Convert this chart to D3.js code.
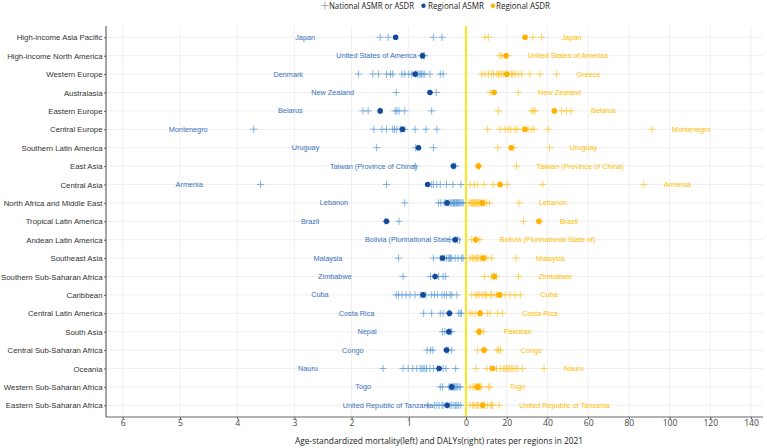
<!DOCTYPE html>
<html>
<head>
<meta charset="utf-8">
<script src="https://cdn.jsdelivr.net/npm/d3@7"></script>
<style>
  body { margin: 0; background: #fff; }
</style>
</head>
<body>
<div id="chart"></div>
<script>
// Regions, top to bottom
let regions = ["High-income Asia Pacific", "High-income North America", "Western Europe", "Australasia",
  "Eastern Europe", "Central Europe", "Southern Latin America", "East Asia", "Central Asia",
  "North Africa and Middle East", "Tropical Latin America", "Andean Latin America", "Southeast Asia",
  "Southern Sub-Saharan Africa", "Caribbean", "Central Latin America", "South Asia",
  "Central Sub-Saharan Africa", "Oceania", "Western Sub-Saharan Africa", "Eastern Sub-Saharan Africa"];

// National ASMR per region (left side)
let asmrNational = [
  [1.50, 1.36, 0.57, 0.42],
  [0.78, 0.73, 0.74],
  [1.88, 1.63, 1.53, 1.39, 1.32, 1.28, 1.12, 1.07, 0.95, 0.85, 0.82, 0.78, 0.75, 0.72, 0.63, 0.45, 0.40, 0.80, 0.88, 1.00],
  [1.22, 0.52],
  [1.80, 1.71, 1.24, 1.21, 1.17, 1.07, 0.60],
  [3.71, 1.61, 1.47, 1.39, 1.28, 1.25, 1.21, 1.15, 1.07, 0.89, 0.70, 0.51, 1.12],
  [1.56, 0.88, 0.57],
  [0.89, 0.22, 0.18],
  [3.59, 1.39, 0.60, 0.57, 0.51, 0.45, 0.34, 0.23, 0.09],
  [1.07, 0.48, 0.44, 0.38, 0.34, 0.30, 0.27, 0.25, 0.23, 0.22, 0.21, 0.20, 0.19, 0.17, 0.16, 0.15, 0.13, 0.11, 0.09, 0.07, 0.05],
  [1.40, 1.17],
  [0.28, 0.19, 0.15],
  [1.18, 0.57, 0.45, 0.38, 0.34, 0.31, 0.29, 0.27, 0.25, 0.19, 0.14, 0.08, 0.05],
  [1.10, 0.62, 0.55, 0.48, 0.40, 0.36],
  [1.22, 1.18, 1.12, 1.05, 0.98, 0.89, 0.80, 0.70, 0.60, 0.55, 0.50, 0.42, 0.38, 0.34, 0.28, 0.25, 0.16],
  [0.74, 0.60, 0.45, 0.40, 0.30, 0.28, 0.13, 0.10, 0.08],
  [0.41, 0.37, 0.30, 0.28, 0.25],
  [0.68, 0.62, 0.58, 0.34, 0.31, 0.25],
  [1.45, 1.10, 1.01, 0.93, 0.86, 0.80, 0.77, 0.75, 0.72, 0.69, 0.63, 0.57, 0.50, 0.40, 0.35, 0.18],
  [0.45, 0.41, 0.30, 0.27, 0.25, 0.24, 0.22, 0.20, 0.19, 0.17, 0.15, 0.12, 0.10],
  [0.67, 0.55, 0.51, 0.47, 0.42, 0.40, 0.33, 0.28, 0.25, 0.21, 0.18, 0.16, 0.13, 0.09]
];

// National ASDR (DALYs) per region (right side)
let asdrNational = [
  [9.3, 11.0, 32.8, 37.2],
  [20.5, 16.6, 17.5],
  [7.7, 9.3, 11.0, 12.6, 15.1, 15.9, 17.5, 18.5, 21.0, 22.4, 24.1, 25.7, 27.4, 31.4, 36.3, 44.5, 13.5, 16.5, 19.5, 23.0],
  [25.6, 11.8],
  [51.6, 49.4, 47.0, 33.9, 33.1, 32.3, 15.9],
  [91.3, 10.6, 16.7, 19.2, 20.8, 22.0, 24.1, 25.2, 30.5, 32.3, 33.4, 40.4, 28.0],
  [41.1, 23.5, 15.6],
  [24.8, 6.0, 6.6],
  [87.3, 2.0, 4.0, 5.6, 8.8, 13.4, 17.5, 20.3, 37.7],
  [26.0, 1.5, 2.2, 2.8, 3.3, 3.8, 4.2, 4.6, 5.0, 5.4, 6.0, 6.5, 7.0, 7.6, 8.5, 9.2, 10.0, 11.5, 4.4, 3.0, 5.8],
  [36.2, 28.2],
  [6.8, 4.6, 2.8],
  [24.6, 2.0, 3.0, 3.5, 4.4, 5.0, 5.5, 6.1, 7.2, 8.0, 9.0, 10.2, 12.6],
  [25.8, 9.0, 12.5, 13.5, 14.0, 15.0],
  [26.7, 2.8, 4.9, 5.5, 6.5, 7.7, 8.8, 9.5, 10.2, 11.8, 12.5, 13.8, 15.0, 17.5, 19.2, 21.6, 24.1],
  [17.8, 2.0, 3.0, 4.5, 6.5, 7.5, 10.5, 11.8, 15.4],
  [8.7, 6.5, 6.2, 5.8, 7.0],
  [17.0, 5.6, 8.8, 9.5, 15.2, 16.0],
  [38.3, 4.9, 10.2, 12.0, 15.0, 17.0, 18.5, 19.2, 20.0, 20.8, 21.5, 22.5, 23.3, 24.5, 25.4, 27.7],
  [11.7, 2.0, 3.5, 4.0, 4.9, 5.2, 5.5, 6.0, 6.2, 6.5, 7.0, 7.5, 11.0],
  [16.3, 2.0, 3.3, 3.8, 4.9, 5.5, 6.1, 7.5, 8.5, 9.0, 10.5, 11.8, 12.6, 13.0]
];

// Regional values
let asmrRegional = [1.23, 0.76, 0.89, 0.63, 1.50, 1.11, 0.83, 0.22, 0.67, 0.33, 1.39,
  0.19, 0.41, 0.54, 0.75, 0.29, 0.30, 0.34, 0.47, 0.25, 0.33];
let asdrRegional = [29.0, 19.6, 20.0, 13.8, 43.4, 29.0, 22.1, 6.1, 16.7, 8.0, 35.8,
  4.8, 8.5, 13.9, 16.4, 6.9, 6.5, 8.8, 13.1, 5.7, 8.2];

// Country with the highest value in each region
let asmrTopCountry = ["Japan", "United States of America", "Denmark", "New Zealand", "Belarus",
  "Montenegro", "Uruguay", "Taiwan (Province of China)", "Armenia", "Lebanon", "Brazil",
  "Bolivia (Plurinational State of)", "Malaysia", "Zimbabwe", "Cuba", "Costa Rica", "Nepal",
  "Congo", "Nauru", "Togo", "United Republic of Tanzania"];
let asdrTopCountry = ["Japan", "United States of America", "Greece", "New Zealand", "Belarus",
  "Montenegro", "Uruguay", "Taiwan (Province of China)", "Armenia", "Lebanon", "Brazil",
  "Bolivia (Plurinational State of)", "Malaysia", "Zimbabwe", "Cuba", "Costa Rica", "Pakistan",
  "Congo", "Nauru", "Togo", "United Republic of Tanzania"];

// Tick labels
let asmrTicks = [6, 5, 4, 3, 2, 1, 0];
let asdrTicks = [20, 40, 60, 80, 100, 120, 140];

let width = 767, height = 448;
let panel = {left: 106, right: 763, top: 26, bottom: 417};

let blueCross = "#5b9bd5", blueDot = "#154a9b", blueText = "#3a72bd";
let orangeCross = "#ffc42e", orangeDot = "#ffb000", orangeText = "#ffc000";

let xLeft = d3.scaleLinear().domain([0, 6]).range([466, 122.7]);
let xRight = d3.scaleLinear().domain([0, 140]).range([466, 751]);
let yScale = d3.scalePoint().domain(regions).range([37.3, 405.3]);

let svg = d3.select("#chart").append("svg")
  .attr("width", width)
  .attr("height", height)
  .style("font-family", "'Liberation Sans', Arial, sans-serif");

// grid
let grid = svg.append("g");
grid.selectAll("line.h").data(regions).enter().append("line")
  .attr("x1", panel.left).attr("x2", panel.right)
  .attr("y1", d => yScale(d)).attr("y2", d => yScale(d))
  .attr("stroke", "#ebebeb").attr("stroke-width", 0.8);
grid.selectAll("line.vl").data(asmrTicks).enter().append("line")
  .attr("x1", d => xLeft(d)).attr("x2", d => xLeft(d))
  .attr("y1", panel.top).attr("y2", panel.bottom)
  .attr("stroke", "#ebebeb").attr("stroke-width", 0.8);
grid.selectAll("line.vr").data(asdrTicks).enter().append("line")
  .attr("x1", d => xRight(d)).attr("x2", d => xRight(d))
  .attr("y1", panel.top).attr("y2", panel.bottom)
  .attr("stroke", "#ebebeb").attr("stroke-width", 0.8);

// centre line
svg.append("line")
  .attr("x1", xRight(0)).attr("x2", xRight(0))
  .attr("y1", panel.top).attr("y2", panel.bottom)
  .attr("stroke", "#ffe81a").attr("stroke-width", 2);

// national crosses
let crossPath = "M-3.6,0H3.6M0,-3.6V3.6";
let rows = svg.append("g").selectAll("g.row")
  .data(regions).enter().append("g")
  .attr("class", "row")
  .attr("transform", d => "translate(0," + yScale(d) + ")");

rows.each(function(region, i) {
  let row = d3.select(this);
  row.selectAll("path.asmr").data(asmrNational[i]).enter().append("path")
    .attr("d", crossPath)
    .attr("transform", d => "translate(" + xLeft(d) + ",0)")
    .attr("fill", "none").attr("stroke", blueCross)
    .attr("stroke-width", 1).attr("opacity", 0.75);
  row.selectAll("path.asdr").data(asdrNational[i]).enter().append("path")
    .attr("d", crossPath)
    .attr("transform", d => "translate(" + xRight(d) + ",0)")
    .attr("fill", "none").attr("stroke", orangeCross)
    .attr("stroke-width", 1).attr("opacity", 0.75);

  // labels: country with the highest value
  row.append("text")
    .attr("x", xLeft(d3.max(asmrNational[i])) - 85)
    .attr("dy", "0.35em")
    .attr("font-size", 7.3)
    .attr("fill", blueText)
    .text(asmrTopCountry[i]);
  row.append("text")
    .attr("x", xRight(d3.max(asdrNational[i])) + 20)
    .attr("dy", "0.35em")
    .attr("font-size", 7.3)
    .attr("fill", orangeText)
    .text(asdrTopCountry[i]);

  row.append("circle")
    .attr("cx", xLeft(asmrRegional[i])).attr("r", 2.8)
    .attr("fill", blueDot);
  row.append("circle")
    .attr("cx", xRight(asdrRegional[i])).attr("r", 2.8)
    .attr("fill", orangeDot);
});

// axes
let yAxis = d3.axisLeft(yScale).tickSize(2).tickPadding(1.5);
let gy = svg.append("g")
  .attr("transform", "translate(" + panel.left + ",0)")
  .call(yAxis);
gy.select(".domain").remove();
gy.selectAll("line").attr("stroke", "#555");
gy.selectAll("text").attr("font-size", 7.8).attr("fill", "#333")
  .attr("font-family", "'Liberation Sans', Arial, sans-serif");

let axisLeftPart = d3.axisBottom(xLeft).tickValues(asmrTicks).tickFormat(d3.format("d"))
  .tickSize(2).tickPadding(1);
let axisRightPart = d3.axisBottom(xRight).tickValues(asdrTicks).tickFormat(d3.format("d"))
  .tickSize(2).tickPadding(1);
[axisLeftPart, axisRightPart].forEach(function(ax) {
  let g = svg.append("g")
    .attr("transform", "translate(0," + panel.bottom + ")")
    .call(ax);
  g.select(".domain").remove();
  g.selectAll("line").attr("stroke", "#555");
  g.selectAll("text").attr("font-size", 8.6).attr("fill", "#444")
    .attr("font-family", "'Open Sans', 'Noto Sans', sans-serif");
});

svg.append("line")
  .attr("x1", panel.left).attr("x2", panel.left)
  .attr("y1", panel.top).attr("y2", panel.bottom)
  .attr("stroke", "#666").attr("stroke-width", 1.2);
svg.append("line")
  .attr("x1", panel.left).attr("x2", panel.right)
  .attr("y1", panel.bottom).attr("y2", panel.bottom)
  .attr("stroke", "#666").attr("stroke-width", 1.2);

// x title
svg.append("text")
  .attr("x", 439).attr("y", 444)
  .attr("text-anchor", "middle")
  .attr("font-family", "'Open Sans', 'Noto Sans', sans-serif")
  .attr("font-size", 9.6).attr("fill", "#222")
  .attr("textLength", 288).attr("lengthAdjust", "spacingAndGlyphs")
  .text("Age-standardized mortality(left) and DALYs(right) rates per regions in 2021");

// legend
let legend = svg.append("g").attr("font-family", "'Open Sans', 'Noto Sans', sans-serif");
legend.append("path").attr("d", crossPath).attr("transform", "translate(325,5.5)")
  .attr("stroke", "#aaa").attr("fill", "none");
legend.append("text").attr("x", 329).attr("y", 8.8).attr("font-size", 9)
  .attr("fill", "#222").attr("textLength", 85).attr("lengthAdjust", "spacingAndGlyphs")
  .text("National ASMR or ASDR");
legend.append("circle").attr("cx", 423.5).attr("cy", 5.8).attr("r", 2.2).attr("fill", blueDot);
legend.append("text").attr("x", 428).attr("y", 8.8).attr("font-size", 9)
  .attr("fill", "#222").attr("textLength", 56).attr("lengthAdjust", "spacingAndGlyphs")
  .text("Regional ASMR");
legend.append("circle").attr("cx", 493).attr("cy", 5.8).attr("r", 2.2).attr("fill", orangeDot);
legend.append("text").attr("x", 496).attr("y", 8.8).attr("font-size", 9)
  .attr("fill", "#222").attr("textLength", 54).attr("lengthAdjust", "spacingAndGlyphs")
  .text("Regional ASDR");
</script>
</body>
</html>
